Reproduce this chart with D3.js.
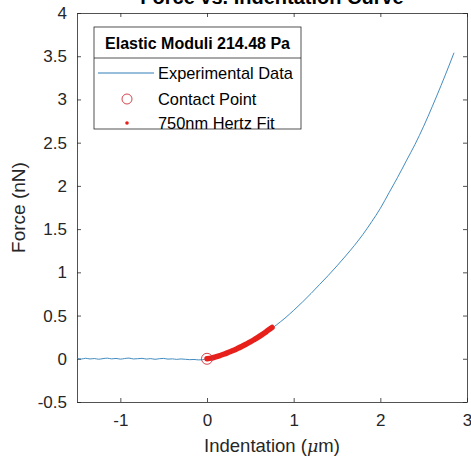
<!DOCTYPE html>
<html>
<head>
<meta charset="utf-8">
<script src="https://cdn.jsdelivr.net/npm/d3@7"></script>
<style>
  body { margin: 0; background: #fff; }
  svg { font-family: "Liberation Sans", Arial, sans-serif; }
</style>
</head>
<body>
<svg id="chart" width="471" height="461"></svg>
<script>
// baseline region before contact (indentation < 0)
const baseX = [-1.5, -1.45, -1.4, -1.35, -1.3, -1.25, -1.2, -1.15, -1.1, -1.05, -1.0, -0.95, -0.9, -0.85, -0.8,
  -0.75, -0.7, -0.65, -0.6, -0.55, -0.5, -0.45, -0.4, -0.35, -0.3, -0.25, -0.2, -0.15, -0.1, -0.05];
const baseF = [0.004, -0.003, 0.006, -0.002, 0.003, -0.005, 0.002, 0.007, -0.001, 0.004, -0.004, 0.003, 0.008, -0.002, 0.001,
  0.005, -0.003, 0.002, -0.006, 0.001, 0.004, -0.004, -0.001, -0.007, -0.002, -0.006, -0.01, -0.008, -0.013, -0.011];
// loading part after contact
const loadX = [0, 0.05, 0.1, 0.15, 0.2, 0.25, 0.3, 0.35, 0.4, 0.45, 0.5, 0.55, 0.6, 0.65, 0.7, 0.75, 0.8, 0.85, 0.9, 0.95,
  1.0, 1.1, 1.2, 1.3, 1.4, 1.5, 1.6, 1.7, 1.8, 1.9, 2.0, 2.1, 2.2, 2.3, 2.4, 2.5, 2.6, 2.7, 2.8, 2.85];
const loadF = [0, 0.008, 0.02, 0.035, 0.05, 0.07, 0.09, 0.115, 0.14, 0.165, 0.19, 0.22, 0.25, 0.285, 0.32, 0.355, 0.39, 0.43, 0.47, 0.515,
  0.56, 0.655, 0.755, 0.86, 0.965, 1.075, 1.19, 1.31, 1.44, 1.585, 1.74, 1.92, 2.1, 2.29, 2.48, 2.69, 2.92, 3.16, 3.41, 3.54];
// 750nm Hertz fit
const fitX = [0, 0.05, 0.1, 0.15, 0.2, 0.25, 0.3, 0.35, 0.4, 0.45, 0.5, 0.55, 0.6, 0.65, 0.7, 0.75];
const fitF = [0, 0.008, 0.022, 0.038, 0.055, 0.075, 0.095, 0.118, 0.142, 0.168, 0.195, 0.225, 0.256, 0.29, 0.326, 0.362];
const contact = [0, 0];

const xTicks = [-1, 0, 1, 2, 3];
const yTicks = [-0.5, 0, 0.5, 1, 1.5, 2, 2.5, 3, 3.5, 4];
const legendTitle = "Elastic Moduli 214.48 Pa";
const legendItems = ["Experimental Data", "Contact Point", "750nm Hertz Fit"];

const svg = d3.select("#chart");
const mLeft = 77, mRight = 467, mTop = 13, mBottom = 402;
const axisColor = "#262626";

const x = d3.scaleLinear().domain([-1.5, 3]).range([mLeft, mRight]);
const y = d3.scaleLinear().domain([-0.5, 4]).range([mBottom, mTop]);

// title (partly above the canvas, as in the source figure)
svg.append("text")
  .attr("x", (mLeft + mRight) / 2).attr("y", 4)
  .attr("text-anchor", "middle")
  .attr("font-weight", "bold").attr("font-size", 20)
  .attr("fill", "#000")
  .text("Force vs. Indentation Curve");

// axes, ticks inward
const xAxis = svg.append("g").attr("transform", `translate(0,${mBottom})`)
  .call(d3.axisBottom(x).tickValues(xTicks).tickSizeInner(-4).tickSizeOuter(0).tickPadding(12).tickFormat(d => d));
const xTop = svg.append("g").attr("transform", `translate(0,${mTop})`)
  .call(d3.axisTop(x).tickValues(xTicks).tickSizeInner(-4).tickSizeOuter(0).tickFormat(""));
const yAxis = svg.append("g").attr("transform", `translate(${mLeft},0)`)
  .call(d3.axisLeft(y).tickValues(yTicks).tickSizeInner(-4).tickSizeOuter(0).tickPadding(10).tickFormat(d => d));
const yRight = svg.append("g").attr("transform", `translate(${mRight},0)`)
  .call(d3.axisRight(y).tickValues(yTicks).tickSizeInner(-4).tickSizeOuter(0).tickFormat(""));

[xAxis, xTop, yAxis, yRight].forEach(g => {
  g.selectAll("path").attr("stroke", axisColor).attr("stroke-width", 0.8);
  g.selectAll("line").attr("stroke", axisColor).attr("stroke-width", 0.8);
  g.selectAll("text").attr("font-size", 17).attr("fill", axisColor)
    .attr("font-family", "Liberation Sans, Arial, sans-serif");
});

// axis labels
svg.append("text")
  .attr("x", (mLeft + mRight) / 2).attr("y", 452)
  .attr("text-anchor", "middle").attr("font-size", 18.5).attr("fill", axisColor)
  .call(t => {
    t.append("tspan").text("Indentation (");
    t.append("tspan").attr("font-style", "italic").attr("font-family", "DejaVu Serif, serif").attr("font-size", 17.5).text("μ");
    t.append("tspan").text("m)");
  });
svg.append("text")
  .attr("transform", `translate(25,${(mTop + mBottom) / 2}) rotate(-90)`)
  .attr("text-anchor", "middle").attr("font-size", 19).attr("fill", axisColor)
  .text("Force (nN)");

// experimental curve
const expData = baseX.map((d, i) => [d, baseF[i]]).concat(loadX.map((d, i) => [d, loadF[i]]));
const line = d3.line().curve(d3.curveMonotoneX).x(d => x(d[0])).y(d => y(d[1]));
svg.append("path")
  .datum(expData)
  .attr("fill", "none").attr("stroke", "#2f7fb8").attr("stroke-width", 0.9)
  .attr("d", line);

// hertz fit points
const fitData = fitX.map((d, i) => [d, fitF[i]]);
svg.append("path")
  .datum(fitData)
  .attr("fill", "none").attr("stroke", "#e8201c").attr("stroke-width", 5.5)
  .attr("stroke-linecap", "round")
  .attr("d", d3.line().curve(d3.curveMonotoneX).x(d => x(d[0])).y(d => y(d[1])));

// contact point
svg.append("circle")
  .attr("cx", x(contact[0])).attr("cy", y(contact[1])).attr("r", 5.5)
  .attr("fill", "none").attr("stroke", "#d0303a").attr("stroke-width", 0.9);

// legend
const lg = svg.append("g");
lg.append("rect").attr("x", 94).attr("y", 27).attr("width", 207).attr("height", 102)
  .attr("fill", "#fff").attr("stroke", axisColor).attr("stroke-width", 0.8);
lg.append("line").attr("x1", 94).attr("x2", 301).attr("y1", 58).attr("y2", 58)
  .attr("stroke", axisColor).attr("stroke-width", 0.8);
lg.append("text").attr("x", 197.5).attr("y", 49).attr("text-anchor", "middle")
  .attr("font-weight", "bold").attr("font-size", 16).attr("fill", "#000").text(legendTitle);

const rowY = [73, 99, 123];
lg.selectAll(".lt").data(legendItems).enter().append("text")
  .attr("x", 158).attr("y", (d, i) => rowY[i] + 6)
  .attr("font-size", 16.4).attr("fill", "#000").text(d => d);
lg.append("line").attr("x1", 98).attr("x2", 154).attr("y1", rowY[0]).attr("y2", rowY[0])
  .attr("stroke", "#2f7fb8").attr("stroke-width", 1);
lg.append("circle").attr("cx", 127).attr("cy", rowY[1]).attr("r", 5)
  .attr("fill", "none").attr("stroke", "#d0303a").attr("stroke-width", 0.9);
lg.append("circle").attr("cx", 127).attr("cy", rowY[2]).attr("r", 1.8)
  .attr("fill", "#e8201c");
</script>
</body>
</html>
